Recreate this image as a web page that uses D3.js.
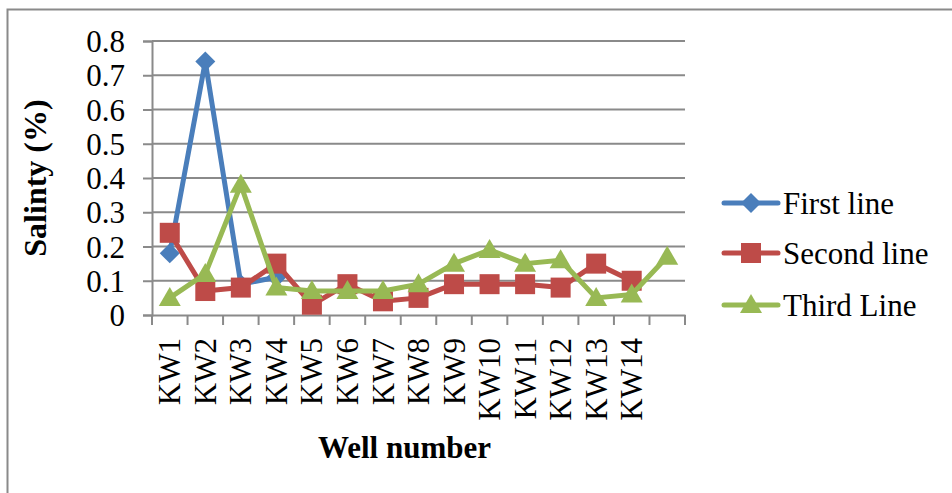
<!DOCTYPE html>
<html><head><meta charset="utf-8">
<script src="https://cdn.jsdelivr.net/npm/d3@7"></script>
<style>html,body{margin:0;padding:0;background:#fff;}svg{display:block;}
svg text{font-family:"Liberation Serif","Times New Roman",Times,serif;}</style>
</head><body>
<script>
const categories = ["KW1","KW2","KW3","KW4","KW5","KW6","KW7","KW8","KW9","KW10","KW11","KW12","KW13","KW14",""];
const firstLine  = [0.18,0.74,0.09,0.11,null,null,null,null,null,null,null,null,null,null,null];
const secondLine = [0.24,0.07,0.08,0.15,0.03,0.09,0.04,0.05,0.09,0.09,0.09,0.08,0.15,0.10,null];
const thirdLine  = [0.05,0.12,0.38,0.08,0.07,0.07,0.07,0.09,0.15,0.19,0.15,0.16,0.05,0.06,0.17];
const yTicks = [0,0.1,0.2,0.3,0.4,0.5,0.6,0.7,0.8];
const seriesNames = ["First line","Second line","Third Line"];
const seriesColors = ["#4A7EBB","#BE4B48","#98B954"];

(function(){
const W = 952, H = 493;
const svg = d3.select("body").append("svg").attr("width",W).attr("height",H);
svg.append("rect").attr("x",7.5).attr("y",9.5).attr("width",W+10).attr("height",H+10)
  .attr("fill","#fff").attr("stroke","#8a8a8a").attr("stroke-width",2);

const pL = 152, pR = 685, pT = 41, pB = 315;
const x = d3.scaleBand().domain(d3.range(categories.length)).range([pL,pR]).padding(0);
const y = d3.scaleLinear().domain([0,0.8]).range([pB,pT]);
const fs = 31;

svg.append("g").selectAll("line").data(yTicks.filter(d=>d>0)).join("line")
  .attr("x1",pL).attr("x2",pR).attr("y1",d=>y(d)).attr("y2",d=>y(d))
  .attr("stroke","#8a8a8a").attr("stroke-width",2);

const yAxis = svg.append("g").attr("transform",`translate(${pL},0)`)
  .call(d3.axisLeft(y).tickValues(yTicks).tickSize(9).tickPadding(18).tickFormat(d=>d===0?"0":d3.format(".1f")(d)));
yAxis.attr("font-family",null);
yAxis.select(".domain").attr("stroke","#8a8a8a").attr("stroke-width",2);
yAxis.selectAll(".tick line").attr("stroke","#8a8a8a").attr("stroke-width",2);
yAxis.selectAll(".tick text").attr("font-size",fs).attr("fill","#000").attr("dy","0.34em");

const xAxis = svg.append("g").attr("transform",`translate(0,${pB})`)
  .call(d3.axisBottom(x).tickSize(0).tickFormat(i=>categories[i]));
xAxis.attr("font-family",null);
xAxis.select(".domain").attr("stroke","#8a8a8a").attr("stroke-width",2);
xAxis.selectAll(".tick text").attr("font-size",fs).attr("fill","#000")
  .attr("text-anchor","end").attr("transform","rotate(-90)")
  .attr("x",-23).attr("y",0).attr("dy","0.34em");
svg.append("g").selectAll("line").data(d3.range(categories.length+1)).join("line")
  .attr("x1",i=>pL+i*x.step()).attr("x2",i=>pL+i*x.step())
  .attr("y1",pB).attr("y2",pB+10).attr("stroke","#8a8a8a").attr("stroke-width",2);

svg.append("text").attr("transform",`translate(46,${(pT+pB)/2}) rotate(-90)`)
  .attr("text-anchor","middle").attr("font-size",32).attr("font-weight","bold")
  .text("Salinty (%)");
svg.append("text").attr("x",(pL+pR)/2-14).attr("y",458)
  .attr("text-anchor","middle").attr("font-size",31).attr("font-weight","bold")
  .text("Well number");

function marker(g, type, color){
  if(type===0){ g.append("path").attr("d","M0,-10L10,0L0,10L-10,0Z").attr("fill",color); }
  else if(type===1){ g.append("rect").attr("x",-10).attr("y",-10).attr("width",20).attr("height",20).attr("fill",color); }
  else { g.append("path").attr("d","M0,-11L11,8L-11,8Z").attr("fill",color); }
}

const allSeries = [firstLine, secondLine, thirdLine];
const cx = i => x(i) + x.bandwidth()/2;
const line = d3.line().defined(d=>d[1]!==null).x(d=>cx(d[0])).y(d=>y(d[1]));
allSeries.forEach((s,k)=>{
  const g = svg.append("g");
  g.append("path").datum(s.map((v,i)=>[i,v])).attr("d",line)
    .attr("fill","none").attr("stroke",seriesColors[k]).attr("stroke-width",5).attr("stroke-linejoin","round");
  s.forEach((v,i)=>{ if(v!==null){ marker(g.append("g").attr("transform",`translate(${cx(i)},${y(v)})`),k,seriesColors[k]); }});
});

const legY = [203,253,305];
seriesNames.forEach((n,k)=>{
  const g = svg.append("g").attr("transform",`translate(0,${legY[k]})`);
  g.append("line").attr("x1",724).attr("x2",778).attr("y1",0).attr("y2",0)
    .attr("stroke",seriesColors[k]).attr("stroke-width",5).attr("stroke-linecap","round");
  marker(g.append("g").attr("transform","translate(751,0)"),k,seriesColors[k]);
  g.append("text").attr("x",783).attr("y",0).attr("dy","0.34em").attr("font-size",fs).attr("fill","#000").text(n);
});
})();
</script>
</body></html>
